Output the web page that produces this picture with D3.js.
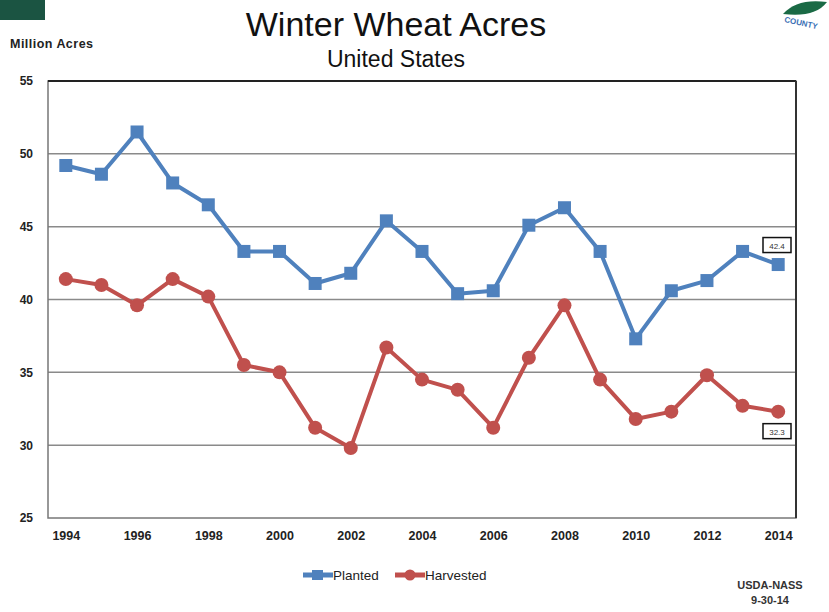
<!DOCTYPE html>
<html>
<head>
<meta charset="utf-8">
<script src="https://cdn.jsdelivr.net/npm/d3@7"></script>
<style>
  body { margin: 0; background: #fff; }
  svg { display: block; font-family: "Liberation Sans", Arial, sans-serif; }
</style>
</head>
<body>
<svg id="chart" width="829" height="612"></svg>
<script>
const years = d3.range(1994, 2015);
const planted = [49.2, 48.6, 51.5, 48.0, 46.5, 43.3, 43.3, 41.1, 41.8, 45.4, 43.3,
                 40.4, 40.6, 45.1, 46.3, 43.3, 37.3, 40.6, 41.3, 43.3, 42.4];
const harvested = [41.4, 41.0, 39.6, 41.4, 40.2, 35.5, 35.0, 31.2, 29.8, 36.7, 34.5,
                   33.8, 31.2, 36.0, 39.6, 34.5, 31.8, 32.3, 34.8, 32.7, 32.3];
const yTicks = [25, 30, 35, 40, 45, 50, 55];
const xTicks = d3.range(1994, 2015, 2);

const svg = d3.select("#chart");
const plot = { left: 48, right: 796, top: 81, bottom: 518 };

const x = d3.scalePoint().domain(years).range([plot.left, plot.right]).padding(0.5);
const y = d3.scaleLinear().domain([25, 55]).range([plot.bottom, plot.top]);

// corner decorations
svg.append("rect").attr("x", 0).attr("y", 0).attr("width", 45).attr("height", 20).attr("fill", "#1b5442");
const logo = svg.append("g").attr("transform", "translate(805,4)");
logo.append("path").attr("d", "M-22,10 Q-8,-6 22,-2 Q10,14 -22,10 Z").attr("fill", "#1a6a45");
logo.append("text").attr("x", 0).attr("y", 22).attr("text-anchor", "middle")
  .attr("font-size", 8).attr("font-weight", "bold").attr("fill", "#3a6fb5")
  .attr("transform", "rotate(12)").text("COUNTY");

// titles
svg.append("text").attr("x", 396).attr("y", 36).attr("text-anchor", "middle")
  .attr("font-size", 34).attr("fill", "#111").text("Winter Wheat Acres");
svg.append("text").attr("x", 396).attr("y", 67).attr("text-anchor", "middle")
  .attr("font-size", 23).attr("fill", "#111").text("United States");
svg.append("text").attr("x", 10).attr("y", 48).attr("font-size", 12.5).attr("font-weight", "bold")
  .attr("fill", "#222").attr("textLength", 83).text("Million Acres");

// grid
svg.append("g").selectAll("line").data(yTicks.filter(d => d > 25 && d < 55)).join("line")
  .attr("x1", plot.left).attr("x2", plot.right)
  .attr("y1", d => y(d)).attr("y2", d => y(d))
  .attr("stroke", "#8a8a8a").attr("stroke-width", 1.5);

// frame
svg.append("rect").attr("x", plot.left).attr("y", plot.top)
  .attr("width", plot.right - plot.left).attr("height", plot.bottom - plot.top)
  .attr("fill", "none").attr("stroke", "#777").attr("stroke-width", 1.5);
svg.append("line").attr("x1", plot.left).attr("x2", plot.right).attr("y1", plot.top).attr("y2", plot.top)
  .attr("stroke", "#222").attr("stroke-width", 2);
svg.append("line").attr("x1", plot.right).attr("x2", plot.right).attr("y1", plot.top).attr("y2", plot.bottom)
  .attr("stroke", "#333").attr("stroke-width", 2);

// axes
const yAxis = svg.append("g").attr("transform", `translate(${plot.left - 12},0)`)
  .call(d3.axisLeft(y).tickValues(yTicks).tickSize(0));
yAxis.select(".domain").remove();
yAxis.selectAll("text").attr("font-size", 12).attr("font-weight", "bold").attr("fill", "#222")
  .attr("font-family", "Liberation Sans, Arial, sans-serif");

const xAxis = svg.append("g").attr("transform", `translate(0,${plot.bottom + 10})`)
  .call(d3.axisBottom(x).tickValues(xTicks).tickSize(0));
xAxis.select(".domain").remove();
xAxis.selectAll("text").attr("font-size", 12.5).attr("font-weight", "bold").attr("fill", "#222")
  .attr("font-family", "Liberation Sans, Arial, sans-serif");

// series
const blue = "#4f81bd", red = "#c0504d";
const line = d3.line().x((d, i) => x(years[i])).y(d => y(d));

svg.append("path").datum(planted).attr("d", line)
  .attr("fill", "none").attr("stroke", blue).attr("stroke-width", 4).attr("stroke-linejoin", "round");
svg.append("g").selectAll("rect").data(planted).join("rect")
  .attr("x", (d, i) => x(years[i]) - 6.5).attr("y", d => y(d) - 6.5)
  .attr("width", 13).attr("height", 13).attr("fill", blue);

svg.append("path").datum(harvested).attr("d", line)
  .attr("fill", "none").attr("stroke", red).attr("stroke-width", 4).attr("stroke-linejoin", "round");
svg.append("g").selectAll("circle").data(harvested).join("circle")
  .attr("cx", (d, i) => x(years[i])).attr("cy", d => y(d)).attr("r", 7).attr("fill", red);

// end labels
function tag(val, yy) {
  const g = svg.append("g").attr("transform", `translate(777,${yy})`);
  g.append("rect").attr("x", -14).attr("y", -8).attr("width", 28).attr("height", 15)
    .attr("fill", "#fff").attr("stroke", "#111").attr("stroke-width", 1.5);
  g.append("text").attr("x", 0).attr("y", 3).attr("text-anchor", "middle")
    .attr("font-size", 8).attr("fill", "#333").text(val);
}
tag(planted[20].toFixed(1), y(planted[20]) - 19);
tag(harvested[20].toFixed(1), y(harvested[20]) + 20);

// legend
const lg = svg.append("g").attr("transform", "translate(0,575)");
lg.append("line").attr("x1", 303).attr("x2", 333).attr("stroke", blue).attr("stroke-width", 5);
lg.append("rect").attr("x", 312).attr("y", -5).attr("width", 11).attr("height", 10).attr("fill", blue);
lg.append("text").attr("x", 333).attr("y", 5).attr("font-size", 13.5).attr("fill", "#222").text("Planted");
lg.append("line").attr("x1", 395).attr("x2", 425).attr("stroke", red).attr("stroke-width", 5);
lg.append("circle").attr("cx", 410).attr("cy", 0).attr("r", 5.5).attr("fill", red);
lg.append("text").attr("x", 425).attr("y", 5).attr("font-size", 13.5).attr("fill", "#222").text("Harvested");

// source
svg.append("text").attr("x", 770).attr("y", 589).attr("text-anchor", "middle")
  .attr("font-size", 11).attr("font-weight", "bold").attr("fill", "#333").text("USDA-NASS");
svg.append("text").attr("x", 770).attr("y", 604).attr("text-anchor", "middle")
  .attr("font-size", 11).attr("font-weight", "bold").attr("fill", "#333").text("9-30-14");
</script>
</body>
</html>
